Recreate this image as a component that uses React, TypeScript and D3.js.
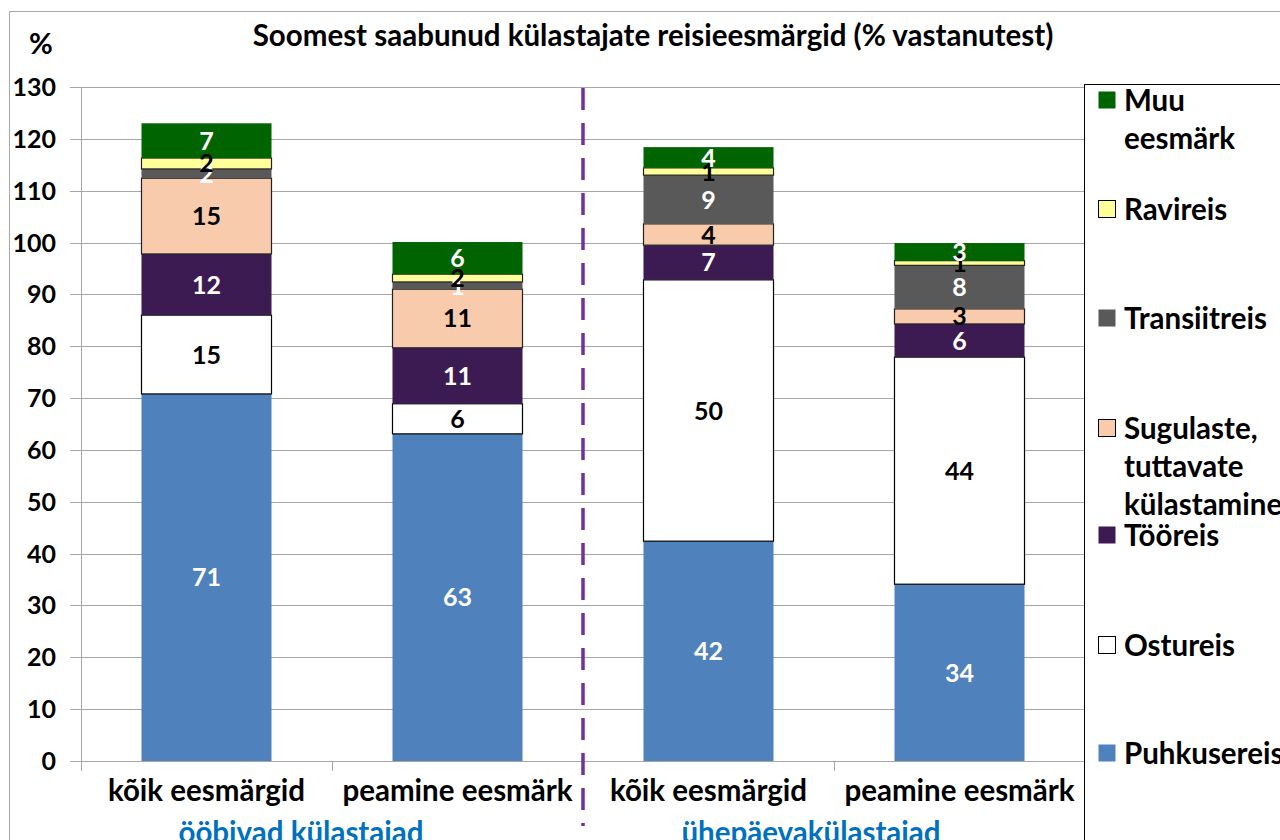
import React from "react";
import * as d3 from "d3";

const categories = ["kõik eesmärgid", "peamine eesmärk", "kõik eesmärgid ", "peamine eesmärk "];
const categoryLabels = ["kõik eesmärgid", "peamine eesmärk", "kõik eesmärgid", "peamine eesmärk"];
const groupLabels = ["ööbivad külastajad", "ühepäevakülastajad"];

const seriesNames = ["Puhkusereis", "Ostureis", "Tööreis", "Sugulaste, tuttavate külastamine", "Transiitreis", "Ravireis", "Muu eesmärk"];
const puhkusereis = [70.8, 63.1, 42.4, 34.1];
const ostureis = [15.2, 5.8, 50.4, 43.8];
const tooreis = [11.8, 10.8, 6.7, 6.4];
const sugulaste = [14.6, 11.3, 4.1, 2.9];
const transiitreis = [1.8, 1.4, 9.4, 8.4];
const ravireis = [2.1, 1.5, 1.4, 0.9];
const muu = [6.7, 6.2, 4.0, 3.4];
const seriesValues = [puhkusereis, ostureis, tooreis, sugulaste, transiitreis, ravireis, muu];

const yTicks = [0, 10, 20, 30, 40, 50, 60, 70, 80, 90, 100, 110, 120, 130];

const colors = ["#4F81BD", "#FFFFFF", "#3C1A52", "#F8CBAD", "#595959", "#FFFF99", "#006400"];
const strokes = ["none", "#000", "none", "#222", "none", "#222", "none"];
const labelColors = ["#fff", "#000", "#fff", "#000", "#fff", "#000", "#fff"];

const legendItems = [
  { idx: 6, lines: ["Muu", "eesmärk"], y: 100 },
  { idx: 5, lines: ["Ravireis"], y: 209 },
  { idx: 4, lines: ["Transiitreis"], y: 318 },
  { idx: 3, lines: ["Sugulaste,", "tuttavate", "külastamine"], y: 428 },
  { idx: 2, lines: ["Tööreis"], y: 535 },
  { idx: 1, lines: ["Ostureis"], y: 645 },
  { idx: 0, lines: ["Puhkusereis"], y: 753 },
];

const FONT = "Lato, 'Open Sans', sans-serif";

export default function App() {
  const left = 81, right = 1085, top = 87, bottom = 761;
  const x = d3.scaleBand<string>().domain(categories).range([left, right]).paddingInner(0.482).paddingOuter(0.241);
  const y = d3.scaleLinear().domain([0, 130]).range([bottom, top]);

  const rows = categories.map((c, i) => {
    const o: any = { cat: c };
    seriesNames.forEach((s, j) => (o[s] = seriesValues[j][i]));
    return o;
  });
  const stacked = d3.stack().keys(seriesNames)(rows);
  const step = x.step();
  const dividerX = left + 2 * step;
  const groupCenters = [left + step - 31, left + 3 * step - 23];

  return (
    <svg width={1280} height={840} style={{ position: "absolute", left: 0, top: 0, background: "#fff" }} fontFamily={FONT}>
      <path d="M9.5,840 L9.5,11.5 L1280,11.5" fill="none" stroke="#A6A6A6" strokeWidth={1} />
      <text x={653} y={46} textAnchor="middle" fontSize={29.5} fontWeight="bold" fill="#000">
        Soomest saabunud külastajate reisieesmärgid (% vastanutest)
      </text>
      <text x={41} y={54} textAnchor="middle" fontSize={29} fontWeight="bold">%</text>
      {yTicks.map((t) => (
        <g key={t}>
          <line x1={70} x2={right} y1={Math.round(y(t)) + 0.5} y2={Math.round(y(t)) + 0.5} stroke="#A6A6A6" strokeWidth={1} />
          <text x={56} y={y(t)} dy="0.36em" textAnchor="end" fontSize={25} fontWeight="bold">{t}</text>
        </g>
      ))}
      <line x1={left + 0.5} x2={left + 0.5} y1={top} y2={bottom} stroke="#A6A6A6" />
      {[0, 1, 3, 4].map((k) => (
        <line key={k} x1={left + k * step + 0.5} x2={left + k * step + 0.5} y1={bottom} y2={bottom + 10} stroke="#A6A6A6" />
      ))}
      {stacked.map((layer, j) => (
        <g key={seriesNames[j]}>
          {layer.map((d, i) => (
            <rect key={i} x={x(categories[i])!} width={x.bandwidth()} y={y(d[1])} height={y(d[0]) - y(d[1])}
              fill={colors[j]} stroke={strokes[j]} strokeWidth={1.2} />
          ))}
        </g>
      ))}
      {stacked.map((layer, j) => (
        <g key={"l" + j}>
          {layer.map((d, i) => (
            <text key={i} x={x(categories[i])! + x.bandwidth() / 2} y={y((d[0] + d[1]) / 2)} dy="0.36em"
              textAnchor="middle" fontSize={25} fontWeight="bold" fill={labelColors[j]}>
              {Math.round(seriesValues[j][i])}
            </text>
          ))}
        </g>
      ))}
      <line x1={dividerX} x2={dividerX} y1={88} y2={826} stroke="#7030A0" strokeWidth={3.5} strokeDasharray="22,13" />
      {categories.map((c, i) => (
        <text key={c} x={x(c)! + x.bandwidth() / 2} y={801} textAnchor="middle" fontSize={29.5} fontWeight="bold">
          {categoryLabels[i]}
        </text>
      ))}
      {groupLabels.map((g, k) => (
        <text key={g} x={groupCenters[k]} y={843} textAnchor="middle" fontSize={29.5} fontWeight="bold" fill="#0070C0">
          {g}
        </text>
      ))}
      <rect x={1084.5} y={84.5} width={300} height={800} fill="#fff" stroke="#000" strokeWidth={1} />
      {legendItems.map((it) => (
        <g key={it.idx}>
          <rect x={1098.5} y={it.y - 8.5} width={17} height={17} fill={colors[it.idx]}
            stroke={strokes[it.idx] === "none" ? "none" : "#000"} strokeWidth={1} />
          {it.lines.map((ln, k) => (
            <text key={k} x={1124} y={it.y + k * 38} dy="0.36em" fontSize={29.5} fontWeight="bold">{ln}</text>
          ))}
        </g>
      ))}
    </svg>
  );
}
